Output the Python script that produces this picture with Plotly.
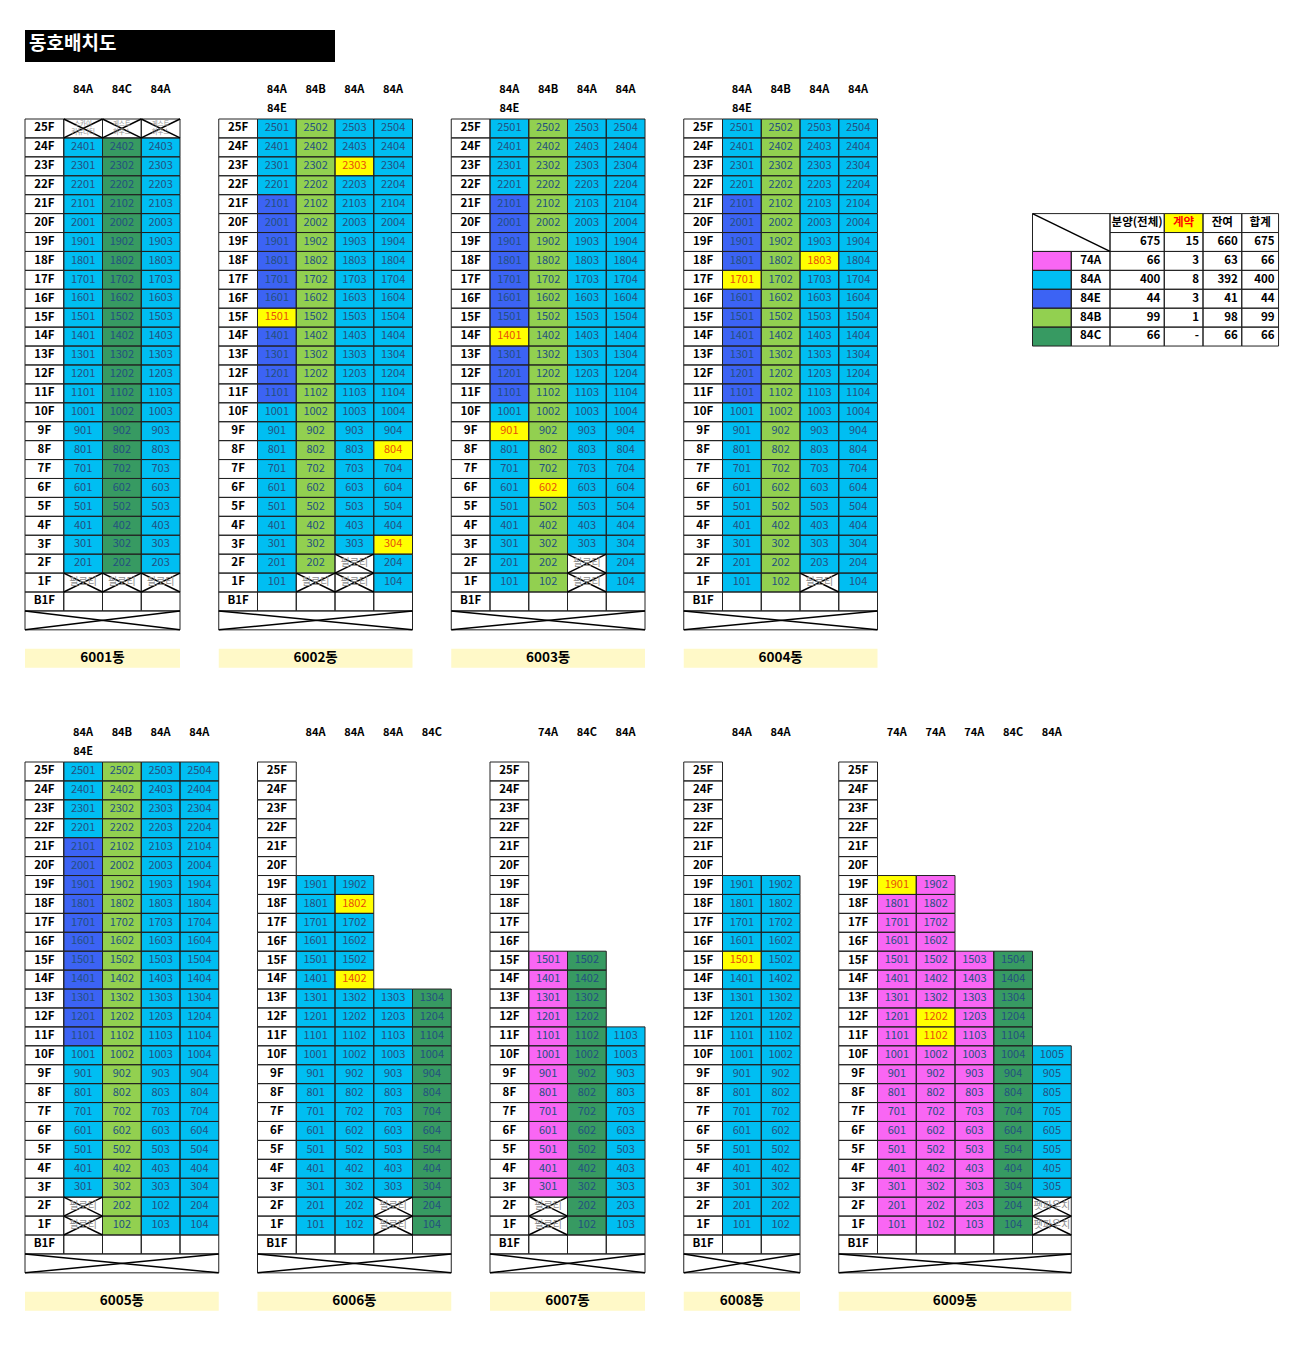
import plotly.graph_objects as go

# ---------------- data ----------------
TITLE = "동호배치도"
BUILDINGS = ["6001동", "6002동", "6003동", "6004동", "6005동", "6006동", "6007동", "6008동", "6009동"]
COL_TYPES = [
    ["84A", "84C", "84A"],
    ["84A", "84B", "84A", "84A"],
    ["84A", "84B", "84A", "84A"],
    ["84A", "84B", "84A", "84A"],
    ["84A", "84B", "84A", "84A"],
    ["84A", "84A", "84A", "84C"],
    ["74A", "84C", "84A"],
    ["84A", "84A"],
    ["74A", "74A", "74A", "84C", "84A"],
]
SUB_TYPES = [None, "84E", "84E", "84E", "84E", None, None, None, None]
TOP_FLOORS = [
    [25, 25, 25],
    [25, 25, 25, 25],
    [25, 25, 25, 25],
    [25, 25, 25, 25],
    [25, 25, 25, 25],
    [19, 19, 13, 13],
    [15, 15, 11],
    [19, 19],
    [19, 19, 15, 15, 10],
]
E_FLOORS_84E = [11, 12, 13, 14, 15, 16, 17, 18, 19, 20, 21]   # 1st column of 6002~6005
E_BUILDINGS = ["6002동", "6003동", "6004동", "6005동"]
FLOORS = [25, 24, 23, 22, 21, 20, 19, 18, 17, 16, 15, 14, 13, 12, 11, 10, 9, 8, 7, 6, 5, 4, 3, 2, 1]

CROSSED = [
    ("6001동", 25, 1, "스카이<br>커뮤니티"), ("6001동", 25, 2, "게스트<br>하우스"), ("6001동", 25, 3, "게스트<br>하우스"),
    ("6001동", 1, 1, "필로티"), ("6001동", 1, 2, "필로티"), ("6001동", 1, 3, "필로티"),
    ("6002동", 1, 2, "필로티"), ("6002동", 2, 3, "필로티"), ("6002동", 1, 3, "필로티"),
    ("6003동", 2, 3, "필로티"), ("6003동", 1, 3, "필로티"),
    ("6004동", 1, 3, "필로티"),
    ("6005동", 2, 1, "필로티"), ("6005동", 1, 1, "필로티"),
    ("6006동", 2, 3, "필로티"), ("6006동", 1, 3, "필로티"),
    ("6007동", 2, 1, "필로티"), ("6007동", 1, 1, "필로티"),
    ("6009동", 2, 5, "펫파우치"), ("6009동", 1, 5, "펫파우치"),
]
CONTRACTED = {
    "6002동": [2303, 1501, 804, 304],
    "6003동": [1401, 901, 602],
    "6004동": [1803, 1701],
    "6006동": [1802, 1402],
    "6008동": [1501],
    "6009동": [1901, 1202, 1102],
}
NUMBER_OVERRIDES = {("6005동", 2, 3): "102"}

LEG_HEAD = ["분양(전체)", "계약", "잔여", "합계"]
LEG_TOTALS = ["675", "15", "660", "675"]
LEG_TYPES = ["74A", "84A", "84E", "84B", "84C"]
LEG_ALL = ["66", "400", "44", "99", "66"]
LEG_CONTRACT = ["3", "8", "3", "1", "-"]
LEG_REMAIN = ["63", "392", "41", "98", "66"]
LEG_SUM = ["66", "400", "44", "99", "66"]

# ---------------- styles / layout ----------------
TYPE_COLORS = {"74A": "#F966F4", "84A": "#00BEF2", "84E": "#3C63F4", "84B": "#92D050", "84C": "#379A62"}
YELLOW = "#FFFF00"
NUM_COLOR = "#24507F"
CON_COLOR = "#E8500A"
GRAY = "#8E8E8E"
NAME_BG = "#FFF9C8"
FONT = "Noto Sans CJK KR"
PAGE_OFFSET = 8  # default page margin of the html body

X0, CW, RH = 25.0, 38.75, 18.92
GROUP_TOP = [119.0, 762.0]
HEAD_Y = [90.0, 733.0]
BLD_GROUP = [0, 0, 0, 0, 1, 1, 1, 1, 1]
BLD_COL = [0, 5, 11, 17, 0, 6, 12, 17, 21]

fills = {}
lines_x, lines_y = [], []
xlines_x, xlines_y = [], []
texts = {}


def add_fill(color, x0, y0, x1, y1):
    fx, fy = fills.setdefault(color, ([], []))
    fx += [x0, x1, x1, x0, x0, None]
    fy += [y0, y0, y1, y1, y0, None]


def add_border(x0, y0, x1, y1):
    lines_x.extend([x0, x1, x1, x0, x0, None])
    lines_y.extend([y0, y0, y1, y1, y0, None])


def add_x(x0, y0, x1, y1):
    xlines_x.extend([x0, x1, None, x0, x1, None])
    xlines_y.extend([y0, y1, None, y1, y0, None])


def add_text(x, y, s, color="black", size=11, bold=False, pos="middle center"):
    key = (color, size, pos)
    tx, ty, tt = texts.setdefault(key, ([], [], []))
    tx.append(x)
    ty.append(y)
    tt.append(f"<b>{s}</b>" if bold else s)


crossed_map = {(b, f, c): t for b, f, c, t in CROSSED}

for bi, name in enumerate(BUILDINGS):
    g = BLD_GROUP[bi]
    top = GROUP_TOP[g]
    left = X0 + BLD_COL[bi] * CW
    ncol = len(COL_TYPES[bi])
    right = left + (ncol + 1) * CW

    # column headers
    for ci, t in enumerate(COL_TYPES[bi]):
        add_text(left + (ci + 1.5) * CW, HEAD_Y[g], t, bold=True, size=11)
    if SUB_TYPES[bi]:
        add_text(left + 1.5 * CW, HEAD_Y[g] + RH, SUB_TYPES[bi], bold=True, size=11)

    # floor rows
    for r, f in enumerate(FLOORS):
        y0, y1 = top + r * RH, top + (r + 1) * RH
        add_border(left, y0, left + CW, y1)
        add_text(left + CW / 2, (y0 + y1) / 2, f"{f}F", bold=True, size=11.5)
        for ci in range(ncol):
            if f > TOP_FLOORS[bi][ci]:
                continue
            cx0, cx1 = left + (ci + 1) * CW, left + (ci + 2) * CW
            key = (name, f, ci + 1)
            if key in crossed_map:
                add_border(cx0, y0, cx1, y1)
                add_x(cx0, y0, cx1, y1)
                lab = crossed_map[key]
                add_text((cx0 + cx1) / 2, (y0 + y1) / 2, lab, color=GRAY,
                         size=6.5 if "<br>" in lab else 10)
                continue
            t = COL_TYPES[bi][ci]
            if ci == 0 and name in E_BUILDINGS and f in E_FLOORS_84E:
                t = "84E"
            num = f * 100 + ci + 1
            label = NUMBER_OVERRIDES.get(key, str(num))
            if num in CONTRACTED.get(name, []):
                add_fill(YELLOW, cx0, y0, cx1, y1)
                col = CON_COLOR
            else:
                add_fill(TYPE_COLORS[t], cx0, y0, cx1, y1)
                col = NUM_COLOR
            add_border(cx0, y0, cx1, y1)
            add_text((cx0 + cx1) / 2, (y0 + y1) / 2, label, color=col, size=11)

    # B1F row
    r = len(FLOORS)
    y0, y1 = top + r * RH, top + (r + 1) * RH
    add_border(left, y0, left + CW, y1)
    add_text(left + CW / 2, (y0 + y1) / 2, "B1F", bold=True, size=11.5)
    for ci in range(ncol):
        add_border(left + (ci + 1) * CW, y0, left + (ci + 2) * CW, y1)
    # crossed box below
    y0, y1 = y1, y1 + RH
    add_border(left, y0, right, y1)
    add_x(left, y0, right, y1)
    # name bar
    y0, y1 = top + (r + 3) * RH, top + (r + 4) * RH
    add_fill(NAME_BG, left, y0, right, y1)
    add_text((left + right) / 2, (y0 + y1) / 2, name, bold=True, size=13.5)

# ---------------- legend table ----------------
LX = X0 + 26 * CW
LY = GROUP_TOP[0] + 5 * RH
LW = [CW, CW, 1.4 * CW, CW, CW, 0.95 * CW]
edges = [LX]
for w in LW:
    edges.append(edges[-1] + w)

# diagonal merged cell
add_border(edges[0], LY, edges[2], LY + 2 * RH)
xlines_x.extend([edges[0], edges[2], None])
xlines_y.extend([LY, LY + 2 * RH, None])
for j in range(4):
    x0, x1 = edges[j + 2], edges[j + 3]
    # header
    y0, y1 = LY, LY + RH
    if j == 1:
        add_fill(YELLOW, x0, y0, x1, y1)
    add_border(x0, y0, x1, y1)
    add_text((x0 + x1) / 2, (y0 + y1) / 2, LEG_HEAD[j], color="#FF0000" if j == 1 else "black",
             bold=True, size=11.5)
    # totals
    y0, y1 = LY + RH, LY + 2 * RH
    add_border(x0, y0, x1, y1)
    add_text(x1 - 4, (y0 + y1) / 2, LEG_TOTALS[j], bold=True, size=11.5, pos="middle left")

cols_vals = [LEG_ALL, LEG_CONTRACT, LEG_REMAIN, LEG_SUM]
for i, t in enumerate(LEG_TYPES):
    y0, y1 = LY + (i + 2) * RH, LY + (i + 3) * RH
    add_fill(TYPE_COLORS[t], edges[0], y0, edges[1], y1)
    add_border(edges[0], y0, edges[1], y1)
    add_border(edges[1], y0, edges[2], y1)
    add_text((edges[1] + edges[2]) / 2, (y0 + y1) / 2, t, bold=True, size=11.5)
    for j in range(4):
        x0, x1 = edges[j + 2], edges[j + 3]
        add_border(x0, y0, x1, y1)
        add_text(x1 - 4, (y0 + y1) / 2, cols_vals[j][i], bold=True, size=11.5, pos="middle left")

# ---------------- title ----------------
add_fill("#000000", X0, 30, X0 + 8 * CW, 62)
add_text(X0 + 4, 45, TITLE, color="white", bold=True, size=19, pos="middle right")

# ---------------- figure ----------------
fig = go.Figure()
for color, (fx, fy) in fills.items():
    fig.add_trace(go.Scatter(x=fx, y=fy, mode="lines", fill="toself", fillcolor=color,
                             line=dict(width=0, color=color), hoverinfo="skip"))
fig.add_trace(go.Scatter(x=lines_x, y=lines_y, mode="lines",
                         line=dict(width=1, color="#222222"), hoverinfo="skip"))
fig.add_trace(go.Scatter(x=xlines_x, y=xlines_y, mode="lines",
                         line=dict(width=1.5, color="black"), hoverinfo="skip"))
for (color, size, pos), (tx, ty, tt) in texts.items():
    fig.add_trace(go.Scatter(x=tx, y=ty, text=tt, mode="text", textposition=pos,
                             textfont=dict(family=FONT, size=size, color=color),
                             hoverinfo="skip", cliponaxis=False))

fig.update_layout(
    width=1300, height=1355, margin=dict(l=0, r=0, t=0, b=0),
    paper_bgcolor="white", plot_bgcolor="white", showlegend=False,
    xaxis=dict(range=[PAGE_OFFSET, 1300 + PAGE_OFFSET], visible=False, fixedrange=True),
    yaxis=dict(range=[1355 + PAGE_OFFSET, PAGE_OFFSET], visible=False, fixedrange=True),
)
fig.write_html("out.html")
